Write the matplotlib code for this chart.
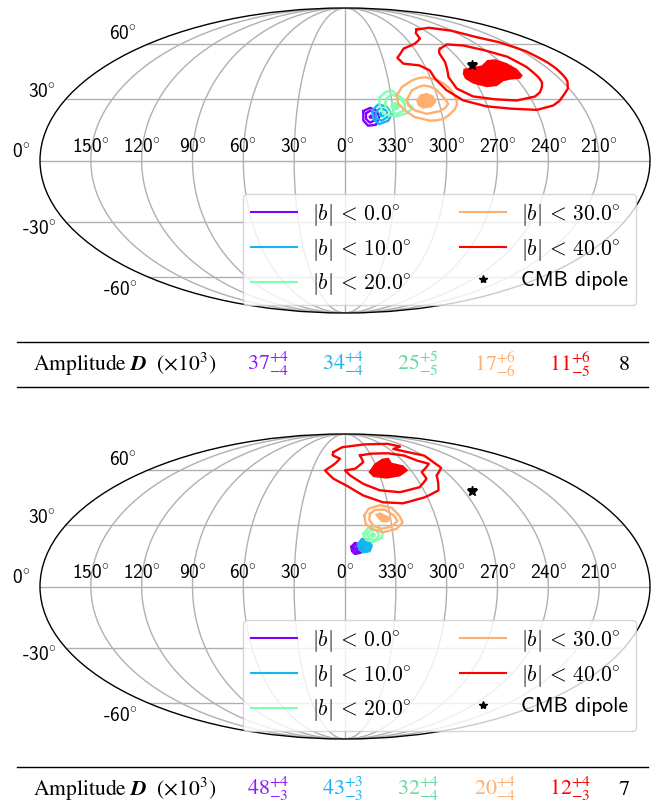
import matplotlib
matplotlib.use('Agg')
import matplotlib.pyplot as plt
import numpy as np
from matplotlib.lines import Line2D

plt.rcParams['mathtext.fontset'] = 'cm'

W, H = 659, 811

PURPLE = '#8000ff'
BLUE = '#14b4f0'
GREEN = '#80ffb0'
ORANGE = '#ffb070'
RED = '#ff0000'

cut_labels = [r'$|b|\,<\,0.0\!^\circ$', r'$|b|\,<\,10.0\!^\circ$', r'$|b|\,<\,20.0\!^\circ$',
              r'$|b|\,<\,30.0\!^\circ$', r'$|b|\,<\,40.0\!^\circ$']
cut_colors = [PURPLE, BLUE, GREEN, ORANGE, RED]
text_colors = ['#8a1cff', '#1cb4f0', '#66d9a0', '#ffb070', '#ff0000', 'black']

lon_ticks = [150, 120, 90, 60, 30, 0, 330, 300, 270, 240, 210]
lat_ticks = [60, 30, 0, -30, -60]

cmb_lon = 264
cmb_lat = 48

top_amplitudes = [r'$37^{+4}_{-4}$', r'$34^{+4}_{-4}$', r'$25^{+5}_{-5}$', r'$17^{+6}_{-6}$', r'$11^{+6}_{-5}$', r'$8$']
bottom_amplitudes = [r'$48^{+4}_{-3}$', r'$43^{+3}_{-3}$', r'$32^{+4}_{-4}$', r'$20^{+4}_{-4}$', r'$12^{+4}_{-3}$', r'$7$']

# contours, (lon, lat) in degrees
top_red_outer = ([278, 260, 241, 230, 216, 207, 204, 203.8, 204.5, 205.2, 206.4, 211, 217.6, 222.5, 228.2, 240, 254.4, 270.5, 284, 292.4, 297, 298, 303.4, 315.4, 318.2, 309.3, 296, 286.5, 284],
                 [69.6, 71, 69.1, 65, 61.4, 55.9, 49.5, 46, 43, 41, 39.1, 35.2, 31.7, 29, 26.7, 24.5, 25, 26.2, 29.2, 34.3, 40.4, 44.9, 47.6, 48.6, 51.9, 57.3, 60.3, 63.5, 67.2])
top_red_mid = ([277.4, 267.5, 254, 242, 229.4, 224.3, 223.7, 224.6, 227.5, 231.5, 236.5, 249.7, 262.3, 276.6, 285.2, 287.1, 282.7, 282, 280],
               [57.3, 59.9, 59.3, 56.7, 52.7, 46.7, 41.2, 38.5, 36, 33.3, 31.2, 29.2, 29.7, 31.2, 35.2, 41.2, 49.5, 54.3, 56.2])
top_red_fill = ([272.5, 265.4, 257, 248.4, 241.3, 236, 233, 233.7, 237.6, 245.2, 250.6, 257.5, 264.6, 272.4, 276.1, 275.6],
                [45.8, 46.7, 47.6, 50.7, 51.1, 49, 45.8, 42.1, 40.4, 39.9, 39.1, 36.5, 36, 37.8, 40.4, 43])
top_orange_outer = ([326.3, 321.8, 313.7, 308.5, 303.6, 296.2, 293, 290.4, 288.8, 288.3, 289, 291, 295, 299.7, 304, 308, 317, 322.5, 326.1],
                    [31.7, 36, 39.5, 40.8, 41.2, 39.9, 38.3, 36, 33, 29.2, 27, 25, 22.3, 20, 19.3, 19.2, 20.9, 24.2, 27.5])
top_orange_mid = ([319.8, 315.7, 311, 307, 303, 299.8, 297.5, 295.5, 294.4, 297, 300.7, 309.3, 316.2, 320],
                  [30, 34.3, 36, 36.9, 36.4, 35.2, 32.8, 30, 27.5, 25.5, 23.9, 22.5, 24.2, 26.7])
top_orange_fill = ([314.4, 311, 306.2, 302.4, 301.5, 305.4, 311, 314],
                   [29.2, 32.2, 33.1, 31.7, 28.4, 25.8, 25, 26.7])
top_green_outer = ([337.8, 333.6, 329, 325.8, 321.5, 317.4, 321.7, 329.1, 336.3, 338],
                   [30.5, 33.4, 34.3, 32.2, 29.2, 25.5, 22.8, 21.2, 22.5, 26.7])
top_green_mid = ([333.5, 330.1, 325.3, 321.9, 322.4, 328, 333, 334.7],
                 [30, 32.2, 31.2, 27.5, 24.5, 22.5, 23.9, 26.7])
top_green_fill = ([331.6, 330.3, 327.6, 325, 326.6, 329.9],
                  [26.2, 28, 28.6, 26.7, 24.5, 23.9])
top_blue_outer = ([343, 339, 333.7, 331, 333.5, 339.2, 342.6],
                  [24.2, 27.2, 26.2, 22.5, 19.2, 17.5, 20])
top_blue_mid = ([340.7, 338, 334, 334, 337.6, 341],
                [23.4, 25.5, 24.2, 20.9, 19.2, 20.5])
top_blue_fill = ([339.3, 337.2, 335.1, 335.6, 337.2, 339],
                 [22.5, 24.2, 22.5, 21.3, 20.8, 21.3])
top_purple_outer = ([348.6, 344.3, 340.2, 338.9, 341.2, 345.9, 348.8],
                    [23.9, 25.5, 24.2, 20.9, 17.2, 16.7, 19.2])
top_purple_mid = ([347, 344, 341.2, 341.4, 344.8, 347.1],
                  [22.8, 24.2, 22.5, 19.5, 18.2, 20])
top_purple_fill = ([345.6, 344.1, 342.6, 343, 344.1, 345.2],
                   [21.2, 22.4, 21.2, 20.3, 20, 20.3])

bottom_red_outer = ([14.6, 4.8, 330, 289.3, 278.2, 294, 285.3, 269, 270, 269.6, 281, 289, 301.6, 319, 333, 346.5, 358.7, 9.7, 18.2, 10, 5.4, 14.3],
                    [72.1, 75.8, 78.2, 78.8, 76.4, 74.5, 72.8, 69.8, 65.2, 61.6, 56.9, 48.2, 44.5, 41.2, 41.7, 45.4, 50.9, 54.9, 59.9, 64.1, 67.5, 69.8])
bottom_red_mid = ([342.6, 330, 309.1, 292.2, 285, 276.7, 291.5, 292, 302, 318.6, 333.4, 345.4, 355.7, 0, 350.7, 341.3],
                  [69.8, 71, 71.4, 69.8, 66.3, 64.1, 58.9, 54.9, 50, 47.2, 48.2, 51.9, 56.9, 59.9, 60.9, 65.2])
bottom_red_fill = ([339.2, 331, 320.1, 312, 312.8, 303.4, 302.4, 313, 325.3, 336.1],
                   [58.9, 64.1, 67.5, 68.2, 64.8, 63.1, 59.9, 56.3, 54.9, 55.9])
bottom_orange_outer = ([347.1, 344, 335.6, 327.8, 323.8, 322.5, 327.1, 335.8, 343, 346.6],
                       [34.8, 38.3, 40.2, 38.8, 34.8, 31.3, 28, 26.3, 28, 30.5])
bottom_orange_mid = ([343.2, 339.5, 332.7, 327.3, 325.8, 330, 336.6, 341.8, 344.1],
                     [35.7, 37.8, 37.8, 34.8, 31.9, 29.2, 28, 29.7, 32.6])
bottom_orange_fill = ([340, 336.4, 332.2, 329.2, 331.8, 336.1, 338.1],
                      [35.3, 36.5, 34.8, 33.6, 31.3, 31.3, 33.1])
bottom_green_outer = ([348.5, 345.1, 339.6, 336.2, 337.1, 342.6, 347],
                      [25.5, 28.6, 29.4, 26.3, 23.5, 21.4, 22.5])
bottom_green_mid = ([346.3, 343.7, 339.9, 338.5, 341.4, 344.9],
                    [25.5, 27.5, 27.2, 24.7, 22.5, 23])
bottom_green_fill = ([344.7, 342.6, 340.5, 341, 342.6, 344.2],
                     [25.2, 26.9, 25.2, 24, 23.5, 24])
bottom_blue_outer = ([352, 349.5, 345.5, 343.6, 345, 349, 351.5],
                     [20.5, 23, 22.6, 19.7, 17, 16.4, 18])
bottom_blue_mid = ([351, 348.8, 346, 344.6, 346, 349, 350.8],
                   [20.5, 22.2, 21.8, 19.7, 17.8, 17.2, 18.5])
bottom_blue_fill = ([350.4, 348.5, 346.2, 345.2, 346.4, 348.6, 350],
                    [20.4, 21.8, 21.4, 19.7, 18.2, 17.7, 18.8])
bottom_purple_outer = ([356, 354, 350.5, 349, 350.5, 354, 355.8],
                       [19.2, 21, 20.6, 18.4, 16.2, 15.6, 17])
bottom_purple_mid = ([355, 353.5, 351, 350, 351, 353.5, 355],
                     [19, 20.2, 20, 18.4, 16.9, 16.4, 17.4])
bottom_purple_fill = ([354.6, 352.5, 350.6, 351, 352.5, 354.2],
                      [18.4, 19.8, 18.4, 17.4, 17, 17.4])

top_contours = [
    ([top_purple_outer, top_purple_mid], top_purple_fill),
    ([top_blue_outer, top_blue_mid], top_blue_fill),
    ([top_green_outer, top_green_mid], top_green_fill),
    ([top_orange_outer, top_orange_mid], top_orange_fill),
    ([top_red_outer, top_red_mid], top_red_fill),
]
bottom_contours = [
    ([bottom_purple_outer, bottom_purple_mid], bottom_purple_fill),
    ([bottom_blue_outer, bottom_blue_mid], bottom_blue_fill),
    ([bottom_green_outer, bottom_green_mid], bottom_green_fill),
    ([bottom_orange_outer, bottom_orange_mid], bottom_orange_fill),
    ([bottom_red_outer, bottom_red_mid], bottom_red_fill),
]


def to_xy(lon, lat):
    # longitude runs to the left, 0 in the middle
    lon = np.asarray(lon, dtype=float)
    x = -((lon + 180) % 360 - 180)
    return np.radians(x), np.radians(np.asarray(lat, dtype=float))


def closed(values):
    return list(values) + [values[0]]


def degree_label(value):
    return '%d$\\!^\\circ$' % value


def draw_map(top_px, contours):
    ax = fig.add_axes([40 / W, 1 - (top_px + 305) / H, 610 / W, 305 / H], projection='mollweide')
    ax.set_longitude_grid(30)
    ax.set_latitude_grid(30)
    ax.set_longitude_grid_ends(90)
    ax.grid(True, color='#b0b0b0', lw=1.0)
    ax.set_xticklabels([])
    ax.set_yticklabels([])
    ax.spines['geo'].set_linewidth(1.0)

    handles = []
    for (lines, fill), color, label in zip(contours, cut_colors, cut_labels):
        for lon, lat in lines:
            x, y = to_xy(closed(lon), closed(lat))
            ax.plot(x, y, color=color, lw=1.7, zorder=3)
        x, y = to_xy(fill[0], fill[1])
        ax.fill(x, y, color=color, lw=0, zorder=3)
        handles.append(Line2D([], [], color=color, lw=1.5, label=label))

    x, y = to_xy(cmb_lon, cmb_lat)
    ax.plot(x, y, '*', color='black', ms=7, zorder=5)
    handles.append(Line2D([], [], color='black', marker='*', ms=6, ls='none', label='CMB dipole'))

    for lon in lon_ticks:
        x, y = to_xy(lon, 0)
        ax.annotate(degree_label(lon), (x, y), xytext=(0, 9.5), textcoords='offset points',
                    ha='center', va='center', fontsize=14, family='cmss10', annotation_clip=False)

    # left edge labels follow the ellipse
    for lat, px, py in zip(lat_ticks, [137, 56, 30, 56, 137], [35, 93, 153, 230, 291]):
        fig.text(px / W, 1 - (py + top_px - 8) / H, degree_label(lat), ha='right', va='center',
                 fontsize=14, family='cmss10')

    leg = ax.legend(handles=handles, ncol=2, loc='upper left', fontsize=15.5,
                    bbox_to_anchor=(243 / W, 1 - (top_px + 186) / H), bbox_transform=fig.transFigure,
                    borderaxespad=0, borderpad=0.36, handlelength=2.14, labelspacing=0.41,
                    columnspacing=2.28, handletextpad=0.7, framealpha=0.8)
    leg.set_zorder(6)
    for text in leg.get_texts():
        if text.get_text() == 'CMB dipole':
            text.set_family('cmss10')
    return ax


def draw_row(y_px, values):
    fig.add_artist(Line2D([17 / W, 648 / W], [1 - (y_px - 22) / H] * 2, color='black', lw=1.0))
    fig.add_artist(Line2D([17 / W, 648 / W], [1 - (y_px + 23) / H] * 2, color='black', lw=1.0))
    fig.text(33 / W, 1 - y_px / H, r'$\mathrm{Amplitude}\ \mathbfit{D}\ \ (\times 10^3)$', ha='left', va='center',
             fontsize=15.6, math_fontfamily='stix')
    for value, color, px in zip(values, text_colors, [268, 343, 418, 495, 570, 624]):
        fig.text(px / W, 1 - y_px / H, value, ha='center', va='center', fontsize=15.8, color=color,
                 math_fontfamily='stix')


fig = plt.figure(figsize=(W / 100, H / 100), dpi=100)

draw_map(8, top_contours)
draw_map(434, bottom_contours)

draw_row(364, top_amplitudes)
draw_row(789, bottom_amplitudes)

fig.savefig('out.png', dpi=100)
